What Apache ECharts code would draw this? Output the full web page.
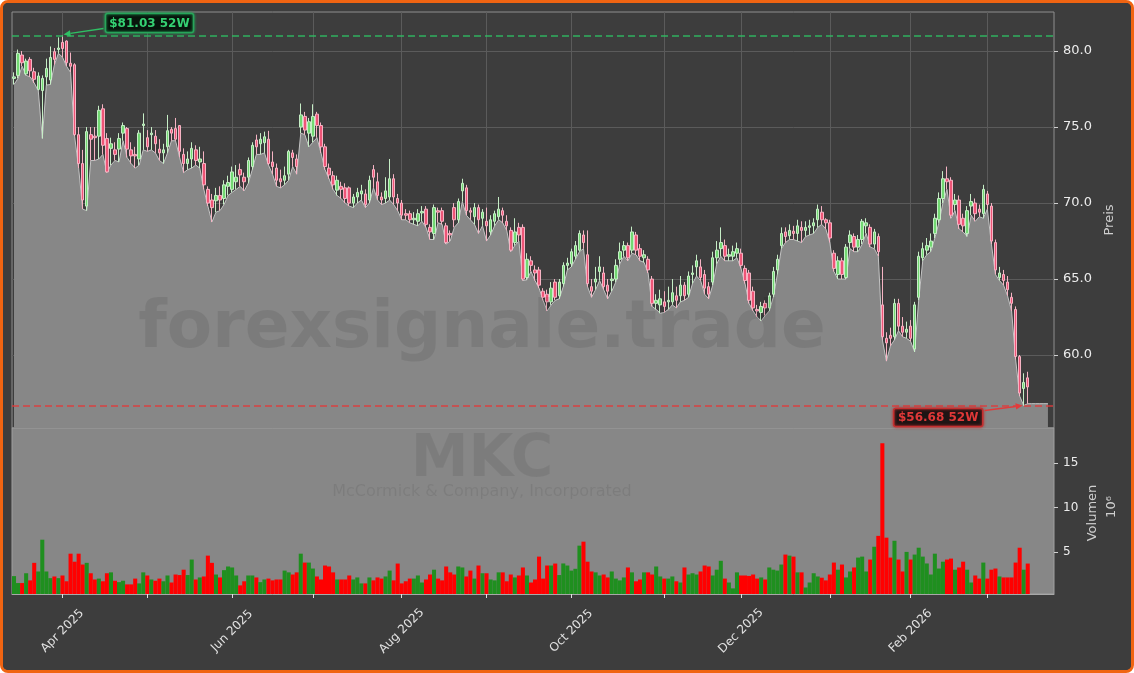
<!DOCTYPE html>
<html>
<head>
<meta charset="utf-8">
<script src="https://cdn.jsdelivr.net/npm/echarts@6/dist/echarts.min.js"></script>
<style>
html,body{margin:0;padding:0;background:#ffffff;}
#wrap{position:relative;width:1134px;height:673px;box-sizing:border-box;border:3px solid #f06412;border-radius:8px;background:#3d3d3d;overflow:hidden;}
#chart{position:absolute;left:-3px;top:-3px;width:1134px;height:673px;}
</style>
</head>
<body>
<div id="wrap"><div id="chart"></div></div>
<script>
// ---------- categories (trading days) ----------
const holidays = ['2025-04-18','2025-05-26','2025-06-19','2025-07-04','2025-09-01','2025-11-27','2025-12-25','2026-01-01','2026-01-19','2026-02-16'];
const startDate = '2025-03-14';
const endDate = '2026-03-16';
const monthNames = ['Jan','Feb','Mar','Apr','May','Jun','Jul','Aug','Sep','Oct','Nov','Dec'];

// ---------- series values ----------
const opens = [
78.2,78.4,79.74,78.5,79.45,78.64,77.48,77.4,78.3,78.1,
79.96,80.1,80.57,80.66,79.2,79.1,74.5,72.6,69.8,74.5,
74.4,74.4,76.2,74.25,73.6,73.5,73.55,74.6,74.9,73.5,
73.2,72.9,75.1,74.3,74.5,74.4,73.55,73.3,73.7,74.85,
74.9,75.1,73.2,72.6,72.9,73.5,72.7,72.6,70.9,70.2,
70.15,70.5,70.3,71.1,70.9,71.4,72.2,71.7,71.7,72.4,
74.15,73.9,73.97,74.2,72.7,72.3,71.6,71.5,71.9,73.3,
72.9,75.0,75.7,74.6,74.4,75.85,75.1,73.7,72.3,71.8,
70.85,71.1,71.0,71.0,70.0,70.4,70.6,70.6,70.2,72.2,
71.4,70.4,70.3,70.4,71.6,70.3,70.0,69.3,69.3,68.9,
68.8,69.35,69.6,68.4,68.0,69.5,69.5,68.5,68.0,69.7,
68.9,70.8,71.0,69.5,69.1,69.7,69.0,68.8,68.1,68.8,
69.1,69.5,68.8,68.2,67.4,68.4,68.4,65.1,66.2,65.6,
65.6,64.2,64.0,63.5,64.8,63.9,64.7,65.9,66.0,66.5,
66.9,67.9,66.6,64.5,64.8,65.5,65.4,64.6,64.9,65.0,
66.3,66.9,67.2,66.9,67.9,67.0,66.4,66.3,65.0,63.4,
63.3,63.5,63.5,63.5,63.9,63.9,64.6,64.0,65.3,65.8,
65.8,65.3,64.5,64.8,66.4,67.0,67.2,66.5,66.5,66.7,
66.7,65.7,65.4,64.2,63.0,62.8,63.4,63.1,64.0,65.6,
67.2,68.1,67.85,68.15,68.0,68.4,68.2,68.4,68.5,68.9,
69.4,68.9,68.7,66.7,65.3,66.2,65.1,67.4,67.8,67.1,
67.6,68.5,68.4,67.3,67.8,63.3,61.1,61.3,61.2,63.4,
61.9,61.5,61.9,60.4,63.8,66.4,66.9,67.1,68.0,68.9,
70.3,71.6,71.5,69.9,70.2,69.0,68.0,69.8,70.0,69.6,
69.3,70.6,69.8,67.4,65.1,65.3,64.8,63.8,63.0,59.9,
57.8,58.5];

const highs = [
78.6,80.1,80.0,79.5,79.6,78.9,78.6,78.4,79.5,80.3,
80.2,80.9,81.03,80.7,79.9,79.2,75.0,73.5,75.0,75.0,
75.0,76.4,76.5,74.6,74.3,74.0,74.6,75.3,75.0,74.0,
73.7,74.8,75.9,74.8,75.0,74.8,74.2,73.9,75.8,75.0,
75.6,75.1,73.6,73.4,74.0,73.8,73.7,73.4,71.1,70.6,
71.0,71.1,71.5,71.8,72.4,72.5,72.6,72.0,73.0,74.0,
74.5,74.6,74.7,74.75,73.4,72.6,72.2,72.4,73.5,73.5,
73.2,76.55,76.0,75.6,76.5,76.0,75.3,73.9,72.6,72.1,
71.8,71.4,71.3,71.1,70.6,71.0,71.2,70.9,71.8,72.5,
72.0,70.7,71.7,72.9,71.9,70.6,70.2,69.6,69.5,69.4,
69.6,69.8,69.8,68.6,69.9,69.7,69.7,68.7,68.2,70.0,
70.3,71.6,71.2,69.7,70.0,69.9,69.6,69.7,69.2,69.5,
70.4,69.7,69.2,68.4,69.0,68.7,68.6,66.7,66.5,65.9,
65.8,64.4,64.3,64.8,65.0,65.0,66.1,66.4,67.0,67.5,
68.2,68.2,68.2,65.0,65.8,66.5,65.8,65.0,65.4,66.3,
67.4,67.5,67.4,68.45,68.1,67.3,66.9,66.5,65.2,64.0,
64.3,64.2,64.5,65.0,64.5,65.2,64.8,65.5,65.9,66.6,
66.3,65.6,64.8,66.8,67.5,68.4,67.6,67.0,67.2,67.4,
67.0,65.9,65.6,64.5,63.3,63.5,63.6,64.1,65.8,66.6,
68.4,68.4,68.6,68.5,68.9,68.8,68.8,68.9,69.0,69.9,
69.8,69.0,68.9,66.9,66.5,66.4,67.3,68.2,68.0,67.9,
68.95,69.0,68.6,68.3,68.0,65.8,61.5,61.8,63.7,63.7,
62.5,62.2,62.3,63.5,66.8,67.4,67.7,68.0,69.3,70.7,
72.1,72.4,71.7,70.6,70.5,69.3,69.8,70.6,70.3,69.9,
71.2,70.8,70.0,67.6,65.8,65.6,65.2,64.1,63.2,60.0,
58.8,58.9];

const lows = [
77.8,78.2,79.0,78.4,78.3,77.9,77.4,74.25,77.76,77.8,
79.1,79.85,79.6,79.0,78.6,74.4,72.3,69.6,69.5,72.8,
72.8,72.9,73.2,72.0,72.5,72.8,72.7,74.1,73.0,72.6,
72.3,72.5,73.5,73.4,73.5,73.3,72.8,72.6,73.3,74.1,
74.1,73.0,72.0,72.2,72.3,72.5,72.3,70.9,69.8,68.75,
69.4,69.5,69.9,70.5,70.7,70.9,71.1,70.8,71.3,72.2,
73.2,73.2,73.3,72.5,71.9,71.1,71.0,71.2,71.5,72.4,
71.9,74.6,74.5,73.7,74.0,74.3,73.3,72.2,71.6,70.9,
70.5,70.3,70.0,69.8,69.7,70.0,70.2,69.7,70.0,71.0,
70.2,69.9,70.0,70.2,69.9,69.5,68.9,68.9,68.7,68.6,
68.5,68.8,68.4,67.6,67.6,68.7,68.6,67.3,67.5,68.4,
68.7,70.1,69.2,68.9,68.6,68.0,68.5,67.5,67.9,68.5,
68.9,68.7,68.2,66.8,67.2,67.5,64.9,64.95,65.5,64.9,
64.4,63.6,62.9,63.3,63.6,63.7,64.5,65.6,65.8,66.3,
66.8,67.0,64.5,63.8,64.3,64.9,64.3,63.7,64.2,64.8,
66.0,66.5,66.2,66.7,66.6,66.2,66.1,65.4,63.2,63.0,
62.75,62.8,63.0,63.3,63.1,63.5,63.6,63.8,64.7,65.2,
64.9,64.0,63.7,64.6,66.0,66.5,66.2,66.2,66.2,66.4,
65.7,64.7,63.4,62.9,62.5,62.25,62.6,62.9,63.8,65.3,
67.0,67.4,67.6,67.6,67.5,67.4,67.8,67.9,68.0,68.4,
68.6,68.3,67.4,65.5,65.0,65.0,65.0,67.0,66.8,66.8,
67.3,68.0,67.1,67.0,66.5,61.0,59.6,60.6,61.0,61.6,
61.2,61.1,60.9,60.2,63.6,66.2,66.6,66.8,67.7,68.7,
70.0,70.9,69.0,69.5,68.3,68.1,67.8,69.2,68.8,69.1,
69.0,69.6,67.3,65.3,64.9,64.6,63.9,62.9,59.7,57.3,
56.68,56.8];

const closes = [
78.3,79.85,79.23,79.34,78.7,78.14,78.36,78.2,78.86,79.58,
79.45,80.2,80.17,79.23,79.0,74.5,72.6,70.2,74.7,74.2,
74.3,76.1,73.8,72.05,73.9,73.2,74.25,75.1,73.55,73.1,
73.1,74.6,75.2,73.7,74.6,73.9,73.3,73.5,74.76,74.6,
74.2,73.4,72.6,72.9,73.6,72.8,72.9,71.2,70.0,69.7,
70.5,70.2,71.2,71.35,72.05,71.7,71.85,71.4,72.8,73.8,
73.7,74.2,74.36,72.6,72.4,71.5,71.4,71.8,73.4,73.0,
72.4,75.8,74.8,75.35,75.7,75.1,73.7,72.4,71.85,71.2,
71.5,70.9,70.3,70.0,70.4,70.7,70.8,69.9,71.5,71.7,
70.5,70.2,70.8,71.6,70.4,70.0,69.2,69.2,68.9,69.0,
69.3,69.45,68.6,68.1,69.7,69.4,68.8,67.4,67.9,68.9,
70.1,71.3,69.5,69.4,69.7,68.9,69.4,68.5,68.9,69.3,
69.6,69.2,68.5,66.9,68.1,67.9,65.0,66.3,65.9,65.4,
64.6,63.8,63.5,64.4,63.8,64.8,65.9,66.05,66.8,67.2,
68.0,67.4,64.7,64.2,65.0,65.8,64.5,64.2,65.0,65.9,
66.8,67.2,66.4,68.1,66.9,66.5,66.6,65.6,63.4,63.6,
63.7,63.2,63.6,64.1,63.6,64.6,63.9,65.2,65.4,66.2,
65.1,64.4,64.0,66.4,66.9,67.4,66.5,66.6,66.8,67.0,
65.9,64.9,63.6,63.1,62.9,63.2,63.1,63.9,65.5,66.3,
68.0,67.8,68.2,68.0,68.5,68.2,68.4,68.5,68.7,69.6,
68.9,68.7,67.7,65.7,66.2,65.3,67.1,67.9,67.1,67.6,
68.8,68.7,67.3,68.1,66.8,61.2,60.8,61.1,63.4,61.9,
61.5,61.7,61.1,63.3,66.5,67.0,67.2,67.5,69.0,70.3,
71.6,71.4,69.2,70.2,68.6,68.5,69.5,70.1,69.3,69.4,
70.9,69.9,67.5,65.6,65.4,64.9,64.3,63.4,59.9,57.5,
58.2,57.9];

// volume in millions
const volumes = [
2.28,1.5,1.5,2.6,1.8,3.77,2.8,6.37,2.8,2.05,
2.24,2.05,2.35,1.7,4.8,3.9,4.8,3.58,3.77,2.6,
1.9,2.0,1.7,2.6,2.7,1.76,1.6,1.76,1.35,1.35,
2.0,1.46,2.7,2.35,1.9,1.76,2.0,1.7,2.35,1.56,
2.46,2.4,3.0,2.4,4.14,1.9,2.13,2.24,4.58,3.77,
2.46,2.13,2.95,3.36,3.25,2.35,1.24,1.7,2.35,2.35,
2.13,1.6,1.9,2.0,1.8,1.9,1.9,2.9,2.7,2.46,
2.7,4.8,3.8,3.8,3.13,2.24,1.9,3.47,3.36,2.7,
1.9,1.9,1.9,2.35,1.9,2.13,1.46,1.46,2.13,1.8,
2.13,2.0,2.24,2.9,1.8,3.69,1.46,1.7,2.0,2.0,
2.35,1.56,1.9,2.46,3.0,2.0,1.8,3.36,2.7,2.46,
3.36,3.25,2.24,2.9,2.0,3.47,2.6,2.6,1.9,1.8,
2.7,2.7,1.7,2.46,2.13,2.35,3.25,2.35,1.56,1.9,
4.47,2.0,3.47,3.47,3.69,
2.4,3.7,3.47,2.9,3.1,5.7,6.15,3.9,2.8,2.7,
2.35,2.46,2.13,2.8,2.0,1.8,2.13,3.25,2.7,1.7,
1.9,2.7,2.7,2.46,3.36,2.24,2.0,2.0,2.24,1.7,
1.56,3.25,2.46,2.6,2.46,2.8,3.47,3.36,2.35,3.0,
4.0,2.0,1.56,0.9,2.7,2.35,2.35,2.3,2.46,2.0,
2.13,1.9,3.25,3.0,2.9,3.58,4.7,4.58,4.47,2.7,
2.7,1.0,1.56,2.6,2.24,2.1,1.8,2.46,3.8,3.0,3.58,
2.13,2.8,3.25,4.36,4.47,2.8,4.14,5.58,6.8,17.2,
6.6,4.36,6.25,4.14,2.8,5.0,4.14,4.7,5.47,4.47,
3.7,2.46,4.8,3.13,3.9,4.14,4.25,3.0,3.25,3.9,
3.0,1.56,2.35,2.0,3.8,2.0,3.0,3.13,2.24,2.13,
2.13,2.13,3.8,5.47,3.0,3.69];

// tick labels
const priceTicks = [60, 65, 70, 75, 80];
const volumeTicks = [5, 10, 15];
const priceRange = [55.2, 82.57];
const padSlots = 6;
const areaTailSlots = 5;
const watermarkText = 'forexsignale.trade';
const symbolText = 'MKC';
const companyText = 'McCormick & Company, Incorporated';

// ---------- build ----------
function tradingDays(s, e, hol) {
  const out = [];
  const d = new Date(s + 'T00:00:00Z');
  const end = new Date(e + 'T00:00:00Z');
  while (d <= end) {
    const wd = d.getUTCDay();
    const iso = d.toISOString().slice(0, 10);
    if (wd !== 0 && wd !== 6 && hol.indexOf(iso) < 0) out.push(iso);
    d.setUTCDate(d.getUTCDate() + 1);
  }
  return out;
}
const dates = tradingDays(startDate, endDate, holidays);
const N = dates.length;
const cats = dates.slice();
for (let k = 1; k <= padSlots; k++) cats.push('+' + k);

function isMonthStart(i) {
  return i > 0 && i < N && dates[i].slice(0, 7) !== dates[i - 1].slice(0, 7);
}
function isLabelMonth(i) {
  if (!isMonthStart(i)) return false;
  const m = parseInt(dates[i].slice(5, 7), 10);
  return m % 2 === 0;
}
function fmtMonth(v) {
  if (!/^\d{4}-\d{2}/.test(v)) return '';
  const m = parseInt(v.slice(5, 7), 10);
  return monthNames[m - 1] + ' ' + v.slice(0, 4);
}

const candleData = [];
for (let i = 0; i < N; i++) candleData.push([opens[i], closes[i], lows[i], highs[i]]);
const areaData = lows.slice();
for (let k = 0; k < areaTailSlots; k++) areaData.push(lows[N - 1]);

const upVol = '#1f8f1f', downVol = '#ff0000';
const volData = volumes.map((v, i) => ({
  value: v,
  itemStyle: { color: closes[i] >= opens[i] ? upVol : downVol }
}));
const vMin = 0.3 * Math.min.apply(null, volumes);
const vMax = 1.1 * Math.max.apply(null, volumes);

const maxHigh = Math.max.apply(null, highs);
const minLow = Math.min.apply(null, lows);
const hiIdx = highs.indexOf(maxHigh);
const loIdx = lows.indexOf(minLow);

const FONT = 'DejaVu Sans';
const chart = echarts.init(document.getElementById('chart'), null, { renderer: 'canvas' });

const option = {
  animation: false,
  backgroundColor: '#3d3d3d',
  grid: [
    { left: 12, width: 1042, top: 12, height: 416, show: true, backgroundColor: '#3d3d3d', borderColor: '#8f8f8f', borderWidth: 1 },
    { left: 12, width: 1042, top: 428, height: 166, show: true, backgroundColor: '#878787', borderColor: '#a0a0a0', borderWidth: 1 }
  ],
  xAxis: [
    {
      type: 'category', gridIndex: 0, data: cats, boundaryGap: true,
      axisLine: { show: false }, axisTick: { show: false }, axisLabel: { show: false },
      splitLine: { show: true, alignWithLabel: true, interval: (i) => isMonthStart(i), lineStyle: { color: '#5b5b5b', width: 1 } }
    },
    {
      type: 'category', gridIndex: 1, data: cats, boundaryGap: true,
      axisLine: { show: true, lineStyle: { color: '#a8a8a8' } },
      axisTick: { show: true, alignWithLabel: true, length: 4, interval: (i) => isMonthStart(i), lineStyle: { color: '#e0e0e0' } },
      axisLabel: {
        show: true, interval: (i) => isLabelMonth(i), rotate: 45, align: 'center', verticalAlign: 'middle',
        margin: 37, color: '#e2e2e2', fontSize: 12, fontFamily: FONT, formatter: fmtMonth
      },
      splitLine: { show: false }
    }
  ],
  yAxis: [
    {
      type: 'value', gridIndex: 0, position: 'right', min: priceRange[0], max: priceRange[1],
      axisLine: { show: false },
      axisTick: { show: true, length: 4, lineStyle: { color: '#d0d0d0' }, customValues: priceTicks },
      axisLabel: { color: '#ececec', fontSize: 13, fontFamily: FONT, margin: 9, formatter: (v) => Number(v).toFixed(1), customValues: priceTicks },
      splitLine: { show: true, lineStyle: { color: '#5b5b5b', width: 1 } },
      name: 'Preis', nameLocation: 'middle', nameGap: 47, nameRotate: 90,
      nameTextStyle: { color: '#cfcfcf', fontSize: 13, fontFamily: FONT }
    },
    {
      type: 'value', gridIndex: 1, position: 'right', min: vMin, max: vMax, splitNumber: 4,
      axisLine: { show: false },
      axisTick: { show: true, length: 4, lineStyle: { color: '#d0d0d0' }, customValues: volumeTicks },
      axisLabel: { color: '#ececec', fontSize: 12, fontFamily: FONT, margin: 9, customValues: volumeTicks },
      splitLine: { show: false }
    }
  ],
  series: [
    {
      name: 'lowArea', type: 'line', xAxisIndex: 0, yAxisIndex: 0, data: areaData,
      showSymbol: false, symbol: 'none', z: 1, silent: true,
      lineStyle: { color: '#c4c4c4', width: 1 },
      areaStyle: { color: '#878787', opacity: 1, origin: 'start' }
    },
    {
      name: 'MKC', type: 'candlestick', xAxisIndex: 0, yAxisIndex: 0, data: candleData, z: 3,
      barWidth: 3,
      itemStyle: { color: '#72d872', color0: '#ee5577', borderColor: '#c6eec6', borderColor0: '#f6b4c4', borderWidth: 1 },
      markLine: {
        silent: true, symbol: ['none', 'none'], label: { show: false },
        data: [
          { yAxis: maxHigh, lineStyle: { color: '#2fbf64', type: [7, 4], width: 1.5, opacity: 0.9 } },
          { yAxis: minLow, lineStyle: { color: '#e23b3b', type: [7, 4], width: 1.5, opacity: 0.9 } }
        ]
      }
    },
    {
      name: 'Volumen', type: 'bar', xAxisIndex: 1, yAxisIndex: 1, data: volData,
      barCategoryGap: '0%', z: 2
    }
  ]
};
chart.setOption(option);

// ---------- annotations and watermarks ----------
const hiPt = chart.convertToPixel({ xAxisIndex: 0, yAxisIndex: 0 }, [hiIdx, maxHigh]);
const loPt = chart.convertToPixel({ xAxisIndex: 0, yAxisIndex: 0 }, [loIdx, minLow]);

function arrow(id, s, t, color) {
  const dx = t[0] - s[0], dy = t[1] - s[1];
  const len = Math.sqrt(dx * dx + dy * dy);
  const ux = dx / len, uy = dy / len;
  const px = -uy, py = ux;
  const hl = 7, hw = 3.2;
  const bx = t[0] - ux * hl, by = t[1] - uy * hl;
  return [
    { type: 'line', id: id + 'l', z: 50, shape: { x1: s[0], y1: s[1], x2: bx, y2: by }, style: { stroke: color, lineWidth: 1.5 } },
    { type: 'polygon', id: id + 'h', z: 50, shape: { points: [[t[0], t[1]], [bx + px * hw, by + py * hw], [bx - px * hw, by - py * hw]] }, style: { fill: color } }
  ];
}
function labelBox(id, x, y, w, h, text, fg, bg, border) {
  return [
    { type: 'rect', id: id + 'r', z: 51, shape: { x: x, y: y, width: w, height: h, r: 2 },
      style: { fill: bg, stroke: border, lineWidth: 1.5, shadowBlur: 3, shadowColor: border } },
    { type: 'text', id: id + 't', z: 52, x: x + w / 2, y: y + h / 2 + 0.5,
      style: { text: text, fill: fg, font: 'bold 12px "DejaVu Sans"', align: 'center', verticalAlign: 'middle' } }
  ];
}

const hiLabel = '$' + maxHigh.toFixed(2) + ' 52W';
const loLabel = '$' + minLow.toFixed(2) + ' 52W';
const gBox = { x: hiPt[0] + 43, y: hiPt[1] - 22, w: 88, h: 19 };
const rBox = { x: loPt[0] - 130, y: loPt[1] + 3, w: 89, h: 18 };

const graphics = [
  { type: 'text', id: 'wm1', z: 40, silent: true, x: 482, y: 330,
    style: { text: watermarkText, fill: 'rgba(0,0,0,0.085)', font: 'bold 66px "DejaVu Sans"', align: 'center', verticalAlign: 'middle' } },
  { type: 'text', id: 'wm2', z: 40, silent: true, x: 482, y: 461,
    style: { text: symbolText, fill: 'rgba(0,0,0,0.075)', font: 'bold 58px "DejaVu Sans"', align: 'center', verticalAlign: 'middle' } },
  { type: 'text', id: 'wm3', z: 40, silent: true, x: 482, y: 492,
    style: { text: companyText, fill: 'rgba(0,0,0,0.075)', font: '16px "DejaVu Sans"', align: 'center', verticalAlign: 'middle' } },
  { type: 'text', id: 'vname', z: 40, x: 1093, y: 513, rotation: Math.PI / 2,
    style: { text: 'Volumen', fill: '#cfcfcf', font: '13px "DejaVu Sans"', align: 'center', verticalAlign: 'middle' } },
  { type: 'text', id: 'vexp', z: 40, x: 1112, y: 507, rotation: Math.PI / 2,
    style: { text: '10⁶', fill: '#cfcfcf', font: '13px "DejaVu Sans"', align: 'center', verticalAlign: 'middle' } }
]
.concat(arrow('ga', [gBox.x - 2, gBox.y + 15], [hiPt[0] + 1, hiPt[1] - 1], '#2fbf64'))
.concat(labelBox('gb', gBox.x, gBox.y, gBox.w, gBox.h, hiLabel, '#34d172', '#08150c', '#27a55a'))
.concat(arrow('ra', [rBox.x + rBox.w + 2, rBox.y + 2], [loPt[0] - 1, loPt[1]], '#e23b3b'))
.concat(labelBox('rb', rBox.x, rBox.y, rBox.w, rBox.h, loLabel, '#e03838', '#1e1414', '#c42f2f'));

chart.setOption({ graphic: graphics });
</script>
</body>
</html>
